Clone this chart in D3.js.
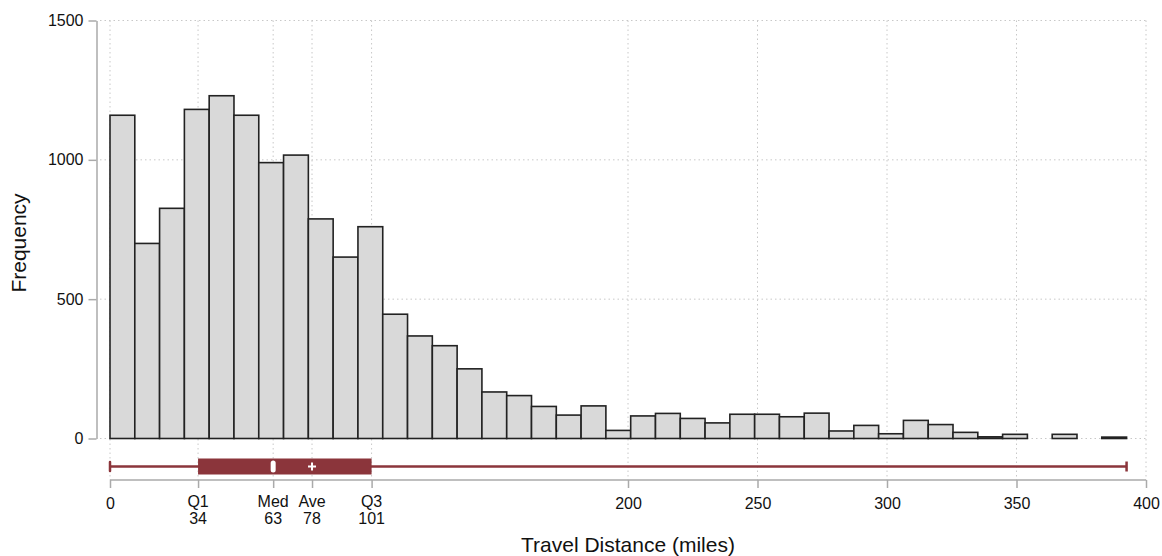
<!DOCTYPE html>
<html>
<head>
<meta charset="utf-8">
<script src="https://cdn.jsdelivr.net/npm/d3@7"></script>
<style>
  body { margin: 0; background: #fff; }
  svg { font-family: "Liberation Sans", Arial, sans-serif; }
  .grid line { stroke: #c8c8c8; stroke-dasharray: 1.5 3; stroke-width: 1; }
  .axis path, .axis line { stroke: #aaa; stroke-width: 1.5; }
  .axis text { fill: #111; font-size: 16px; }
</style>
</head>
<body>
<script>
//histogram counts, 41 equal bins from 0 to the max distance
var counts = [1160, 700, 826, 1181, 1230, 1160, 990, 1017, 788, 651,
              760, 446, 368, 333, 250, 167, 154, 115, 84, 117,
              29, 81, 90, 72, 56, 87, 87, 78, 91, 27,
              47, 17, 65, 50, 22, 6, 15, 0, 15, 0, 5];
var maxDist = 392.5;

//box plot summary
var stats = { min: 0, q1: 34, med: 63, ave: 78, q3: 101, max: maxDist };
var boxTicks = [
    { v: 34, top: "Q1", bottom: "34" },
    { v: 63, top: "Med", bottom: "63" },
    { v: 78, top: "Ave", bottom: "78" },
    { v: 101, top: "Q3", bottom: "101" }
];
var xTicks = [0, 200, 250, 300, 350, 400];
var yTicks = [0, 500, 1000, 1500];

var width = 1162,
    height = 556;

var svg = d3.select("body")
    .append("svg")
    .attr("width", width)
    .attr("height", height);

var x = d3.scaleLinear().domain([0, 400]).range([110, 1146]);
var y = d3.scaleLinear().domain([0, 1500]).range([438.5, 20.5]);

var binWidth = maxDist / counts.length;
var bins = counts.map(function(c, i){
    return { x0: i * binWidth, x1: (i + 1) * binWidth, n: c };
});

//dotted grid
var grid = svg.append("g").attr("class", "grid");
grid.selectAll(".gy")
    .data(yTicks)
    .enter()
    .append("line")
    .attr("x1", 100).attr("x2", x(400))
    .attr("y1", function(d){ return y(d); })
    .attr("y2", function(d){ return y(d); });
grid.selectAll(".gx")
    .data(xTicks.concat(boxTicks.map(function(d){ return d.v; })))
    .enter()
    .append("line")
    .attr("x1", function(d){ return x(d); })
    .attr("x2", function(d){ return x(d); })
    .attr("y1", y(1500))
    .attr("y2", 480);

//bars
svg.append("g")
    .selectAll("rect")
    .data(bins.filter(function(d){ return d.n > 0; }))
    .enter()
    .append("rect")
    .attr("x", function(d){ return x(d.x0); })
    .attr("width", function(d){ return x(d.x1) - x(d.x0); })
    .attr("y", function(d){ return y(d.n); })
    .attr("height", function(d){ return y(0) - y(d.n); })
    .attr("fill", "#d9d9d9")
    .attr("stroke", "#222")
    .attr("stroke-width", 1.6);

//y axis
svg.append("g")
    .attr("class", "axis")
    .attr("transform", "translate(96.5,0)")
    .call(d3.axisLeft(y).tickValues(yTicks).tickSize(8).tickSizeOuter(0).tickPadding(5)
        .tickFormat(d3.format("d")));

//x axis
var xAxis = svg.append("g")
    .attr("class", "axis")
    .attr("transform", "translate(0,480)")
    .call(d3.axisBottom(x).tickValues(xTicks.concat(boxTicks.map(function(d){ return d.v; })))
        .tickSize(8).tickSizeOuter(0).tickPadding(10)
        .tickFormat(function(d){ return xTicks.indexOf(d) >= 0 ? d : ""; }));
xAxis.select(".domain").attr("d", "M" + x(0) + ",0H" + x(400));

//two-line labels under the box plot ticks
var lab = svg.append("g");
lab.selectAll(".top")
    .data(boxTicks)
    .enter()
    .append("text")
    .attr("x", function(d){ return x(d.v); })
    .attr("y", 507)
    .attr("text-anchor", "middle")
    .attr("font-size", 16)
    .attr("fill", "#111")
    .text(function(d){ return d.top; });
lab.selectAll(".bottom")
    .data(boxTicks)
    .enter()
    .append("text")
    .attr("x", function(d){ return x(d.v); })
    .attr("y", 524)
    .attr("text-anchor", "middle")
    .attr("font-size", 16)
    .attr("fill", "#111")
    .text(function(d){ return d.bottom; });

//box plot
var boxColor = "#8b353b",
    cy = 466.5;
var box = svg.append("g");
box.append("line")
    .attr("x1", x(stats.min)).attr("x2", x(stats.max))
    .attr("y1", cy).attr("y2", cy)
    .attr("stroke", boxColor).attr("stroke-width", 2.5);
box.append("line")
    .attr("x1", x(stats.min)).attr("x2", x(stats.min))
    .attr("y1", cy - 4.5).attr("y2", cy + 4.5)
    .attr("stroke", boxColor).attr("stroke-width", 2.5).attr("stroke-linecap", "round");
box.append("line")
    .attr("x1", x(stats.max)).attr("x2", x(stats.max))
    .attr("y1", cy - 5).attr("y2", cy + 5)
    .attr("stroke", boxColor).attr("stroke-width", 2.5);
box.append("rect")
    .attr("x", x(stats.q1)).attr("width", x(stats.q3) - x(stats.q1))
    .attr("y", cy - 8).attr("height", 16)
    .attr("fill", boxColor);
box.append("rect")
    .attr("x", x(stats.med) - 2.5).attr("width", 5)
    .attr("y", cy - 6).attr("height", 12)
    .attr("rx", 2.5)
    .attr("fill", "#fff");
box.append("path")
    .attr("d", "M" + (x(stats.ave) - 4) + "," + cy + "h8M" + x(stats.ave) + "," + (cy - 4) + "v8")
    .attr("stroke", "#fff").attr("stroke-width", 2);

//axis titles
svg.append("text")
    .attr("x", x(200))
    .attr("y", 552)
    .attr("text-anchor", "middle")
    .attr("font-size", 21)
    .attr("fill", "#111")
    .text("Travel Distance (miles)");
svg.append("text")
    .attr("transform", "translate(26,243) rotate(-90)")
    .attr("text-anchor", "middle")
    .attr("font-size", 21)
    .attr("fill", "#111")
    .text("Frequency");
</script>
</body>
</html>
